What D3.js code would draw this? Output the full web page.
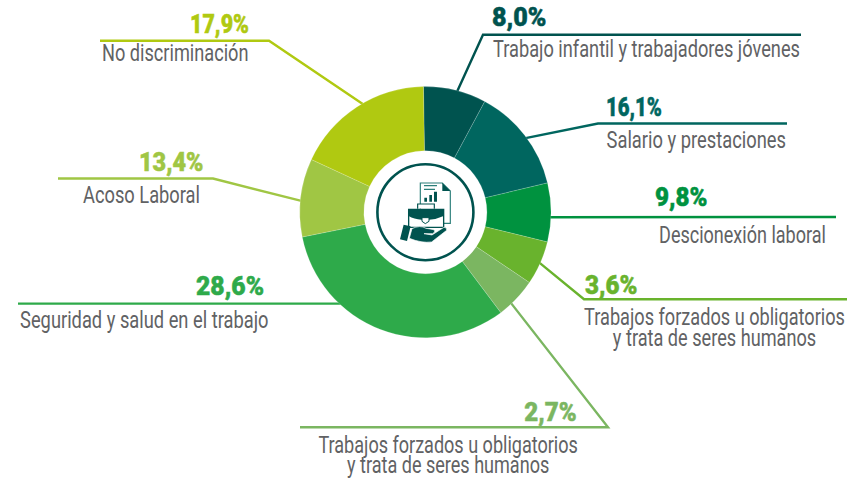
<!DOCTYPE html>
<html lang="es">
<head>
<meta charset="utf-8">
<script src="https://cdn.jsdelivr.net/npm/d3@7"></script>
<style>
html,body{margin:0;padding:0;background:#fff}
svg{display:block}
</style>
</head>
<body>
<svg id="chart" width="865" height="479"></svg>
<script>
// --- data ---
const categories = [
  "Trabajo infantil y trabajadores jóvenes",
  "Salario y prestaciones",
  "Descionexión laboral",
  "Trabajos forzados u obligatorios|y trata de seres humanos",
  "Trabajos forzados u obligatorios|y trata de seres humanos",
  "Seguridad y salud en el trabajo",
  "Acoso Laboral",
  "No discriminación"
];
const printedPercents = ["8,0%","16,1%","9,8%","3,6%","2,7%","28,6%","13,4%","17,9%"];
// Slice spans as drawn in the reference (degrees); they differ from the printed figures.
const sliceSpans = [29.1,48.3,27.2,20.4,19.0,115.5,36.2,64.3];
const sliceColors = ["#00534f","#00665f","#00923f","#69b32d","#7bb661","#2eaa4a","#a0c644","#b0c911"];

// --- layout ---
const cx = 425.4, cy = 212.2, outerR = 125.6, innerR = 61.5, ringR = 48;
const firstAngle = -0.9;
const leaderAngles = [14.7,53.5,92.3,113.9,136.7,222.8,275.2,330];
const leaderPaths = [
  [[483,34.8],[801,34.8]],
  [[598,123.5],[787,123.5]],
  [[836,217]],
  [[584,299.3],[847,299.3]],
  [[608,427.3],[300,427.3]],
  [[18,303.6]],
  [[213,178.5],[58,178.5]],
  [[269,40.8],[100,40.8]]
];
const percentBoxes = [[492,546.5,26.5],[606,662,116.5],[655,707.5,206],[585,637.5,294],[524.3,576.7,421],[196,264,295],[139,203.5,171],[190,249,33]];
// left, right, first baseline, second baseline
const labelBoxes = [
  [493,800,57],
  [606.5,786,148],
  [659,826,243],
  [584,845,325,346],
  [318.3,578,452.7,472.7],
  [20,268.5,328],
  [83,200,203.3],
  [102,248.5,60.7]
];
const textGrey = "#616264", iconColor = "#00534f";
const rad = d => d * Math.PI / 180;
const fontStack = "Roboto, 'Liberation Sans', sans-serif";

const svg = d3.select("#chart");

// --- slices ---
const pie = d3.pie().sort(null).value(d => d).startAngle(rad(firstAngle)).endAngle(rad(firstAngle + 360));
const arc = d3.arc().innerRadius(innerR).outerRadius(outerR);

// --- leaders (below the slices) ---
svg.append("g").selectAll("path").data(leaderPaths).join("path")
  .attr("fill", "none")
  .attr("stroke", (d, i) => sliceColors[i])
  .attr("stroke-width", 2.4)
  .attr("stroke-linejoin", "miter")
  .attr("d", (d, i) => {
    const a = rad(leaderAngles[i]);
    const start = [cx + (outerR - 1) * Math.sin(a), cy - (outerR - 1) * Math.cos(a)];
    return d3.line()([start, ...d]);
  });

svg.append("g").attr("transform", `translate(${cx},${cy})`)
  .selectAll("path").data(pie(sliceSpans)).join("path")
  .attr("d", arc)
  .attr("fill", (d, i) => sliceColors[i])
  .attr("stroke", "#ffffff")
  .attr("stroke-opacity", 0.35)
  .attr("stroke-width", 0.5);

// Squeezes a text horizontally about its centre until it spans left..right.
function fitWidth(textSel, left, right, naturalWidth) {
  const scale = (right - left) / naturalWidth;
  textSel.attr("transform", `translate(${(left + right) / 2},0) scale(${scale},1)`);
}

// --- percent labels ---
printedPercents.forEach((p, i) => {
  const [l, r, y] = percentBoxes[i];
  const t = svg.append("text")
    .attr("text-anchor", "middle").attr("x", 0).attr("y", y)
    .attr("font-family", fontStack).attr("font-weight", 900).attr("font-size", 26)
    .attr("fill", sliceColors[i]).attr("stroke", sliceColors[i]).attr("stroke-width", 0.5)
    .text(p);
  fitWidth(t, l, r, t.node().getComputedTextLength());
});

// --- category labels ---
categories.forEach((c, i) => {
  const b = labelBoxes[i];
  const t = svg.append("text")
    .attr("text-anchor", "middle")
    .attr("font-family", fontStack).attr("font-size", 23.5)
    .attr("fill", textGrey);
  const spans = c.split("|").map((line, j) =>
    t.append("tspan").attr("x", 0).attr("y", b[2 + j]).text(line));
  fitWidth(t, b[0], b[1], spans[0].node().getComputedTextLength());
});

// --- centre ring ---
svg.append("circle").attr("cx", cx).attr("cy", cy).attr("r", ringR)
  .attr("fill", "#fff").attr("stroke", iconColor).attr("stroke-width", 2.6);

// --- icon ---
const icon = svg.append("g").attr("transform", "translate(280,70) scale(0.3333)");
// document
icon.append("path")
  .attr("d", "M421 339H487L511 363V460H421Z")
  .attr("fill", "#fff").attr("stroke", "#2c7f7a").attr("stroke-width", 3.5);
icon.append("path").attr("d", "M487 339V363H511Z").attr("fill", iconColor);
icon.append("path").attr("d", "M432 347H471M432 358H465").attr("stroke", "#2c7f7a").attr("stroke-width", 4).attr("fill", "none");
icon.append("path").attr("d", "M433 395V383H441V395ZM448 395V375H456V395ZM462 395V365H471V395Z").attr("fill", iconColor);
// handle
icon.append("path").attr("d", "M413 416V402H463V416").attr("fill", "#fff").attr("stroke", iconColor).attr("stroke-width", 3.5);
// briefcase
icon.append("path").attr("d", "M386 418H491V472H386Z").attr("fill", "#fff").attr("stroke", iconColor).attr("stroke-width", 4);
icon.append("path").attr("d", "M386 418H491V438Q470 448 447 449H425Q402 448 386 438Z").attr("fill", iconColor);
icon.append("path").attr("d", "M426 443H447V454L436 461L426 454Z").attr("fill", "#fff").attr("stroke", iconColor).attr("stroke-width", 3);
// wrist and hand
icon.append("path").attr("d", "M371 464L392 469L381 513L360 508Z").attr("fill", iconColor);
icon.append("path")
  .attr("d", "M396 476Q420 464 438 475L462 479Q468 486 458 491L432 491L456 495L492 472Q502 472 500 481L455 516Q425 520 388 505Z")
  .attr("fill", iconColor).attr("stroke", "#fff").attr("stroke-width", 2);
</script>
</body>
</html>
